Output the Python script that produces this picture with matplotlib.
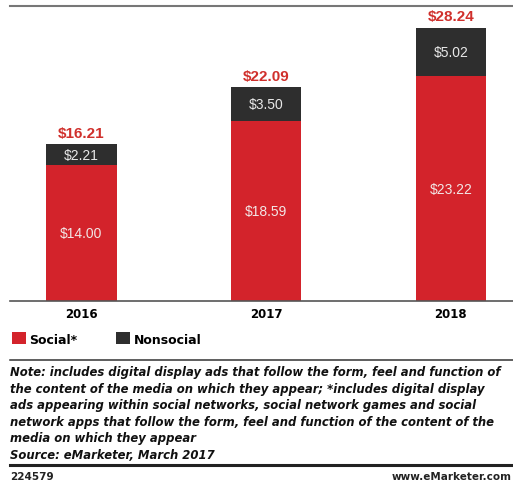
import matplotlib
matplotlib.use("Agg")
import matplotlib.pyplot as plt
from matplotlib.lines import Line2D

# Native digital display ad spending, billions
years = ["2016", "2017", "2018"]
social = [14.00, 18.59, 23.22]
nonsocial = [2.21, 3.50, 5.02]
series_labels = ["Social*", "Nonsocial"]

note = ("Note: includes digital display ads that follow the form, feel and function of\n"
        "the content of the media on which they appear; *includes digital display\n"
        "ads appearing within social networks, social network games and social\n"
        "network apps that follow the form, feel and function of the content of the\n"
        "media on which they appear\n"
        "Source: eMarketer, March 2017")

RED = "#d3232b"
DARK = "#2e2e2e"
W, H = 513, 481


def fx(px):
    return px / W


def fy(py):
    return 1 - py / H


fig = plt.figure(figsize=(W / 100, H / 100), dpi=100)
fig.patch.set_facecolor("white")

ax = fig.add_axes([0, fy(302), 1, (302 - 7) / H])
x = range(len(years))
width = 0.38
bars_social = ax.bar(x, social, width, color=RED, edgecolor="none")
bars_non = ax.bar(x, nonsocial, width, bottom=social, color=DARK, edgecolor="none")

ax.set_xlim(-0.441, 2.336)
ax.set_ylim(0, 30.47)

for i in x:
    total = round(social[i] + nonsocial[i], 2)
    ax.text(i, social[i] / 2, f"${social[i]:.2f}", ha="center", va="center",
            color="#f2e6e6", fontsize=10, family="Liberation Sans")
    ax.text(i, social[i] + nonsocial[i] / 2, f"${nonsocial[i]:.2f}", ha="center",
            va="center", color="#e8e8e8", fontsize=10, family="Liberation Sans")
    ax.annotate(f"${total:.2f}", (i, total), xytext=(0, 3), textcoords="offset points",
                ha="center", va="bottom", color="#d0302c", fontsize=11,
                fontweight="bold", family="Liberation Sans")

for side in ["left", "right", "top"]:
    ax.spines[side].set_visible(False)
ax.spines["bottom"].set_color("#555555")
ax.spines["bottom"].set_linewidth(1.2)
ax.spines["bottom"].set_bounds(-0.441 + 10 / 184.75, 2.336)
ax.set_yticks([])
ax.set_xticks(list(x), years)
ax.tick_params(axis="x", length=0, pad=4)
for lab in ax.get_xticklabels():
    lab.set_fontweight("bold")
    lab.set_fontsize(8.5)

leg = ax.legend([bars_social, bars_non], series_labels, loc="center left",
                bbox_to_anchor=(fx(12), fy(340)), bbox_transform=fig.transFigure,
                ncol=2, frameon=False, borderpad=0, borderaxespad=0,
                handlelength=1.1, handleheight=1.1, handletextpad=0.3,
                columnspacing=3.1, prop={"weight": "bold", "size": 9})

# rules across the page
fig.add_artist(Line2D([fx(10), 1], [fy(7), fy(7)], color="#777777", lw=1.5))
fig.add_artist(Line2D([fx(10), 1], [fy(361), fy(361)], color="#333333", lw=1.1))
fig.add_artist(Line2D([fx(10), 1], [fy(466), fy(466)], color="#222222", lw=2.2))

fig.text(fx(10), fy(366), note, ha="left", va="top", fontsize=8.4,
         style="italic", fontweight="bold", linespacing=1.36, color="#111111")

fig.text(fx(10), fy(477), "224579", ha="left", va="center", fontsize=7.5,
         fontweight="bold", color="#222222")
fig.text(fx(512), fy(477), "www.eMarketer.com", ha="right", va="center",
         fontsize=7.5, fontweight="bold", color="#222222")

fig.savefig("out.png", dpi=100)
